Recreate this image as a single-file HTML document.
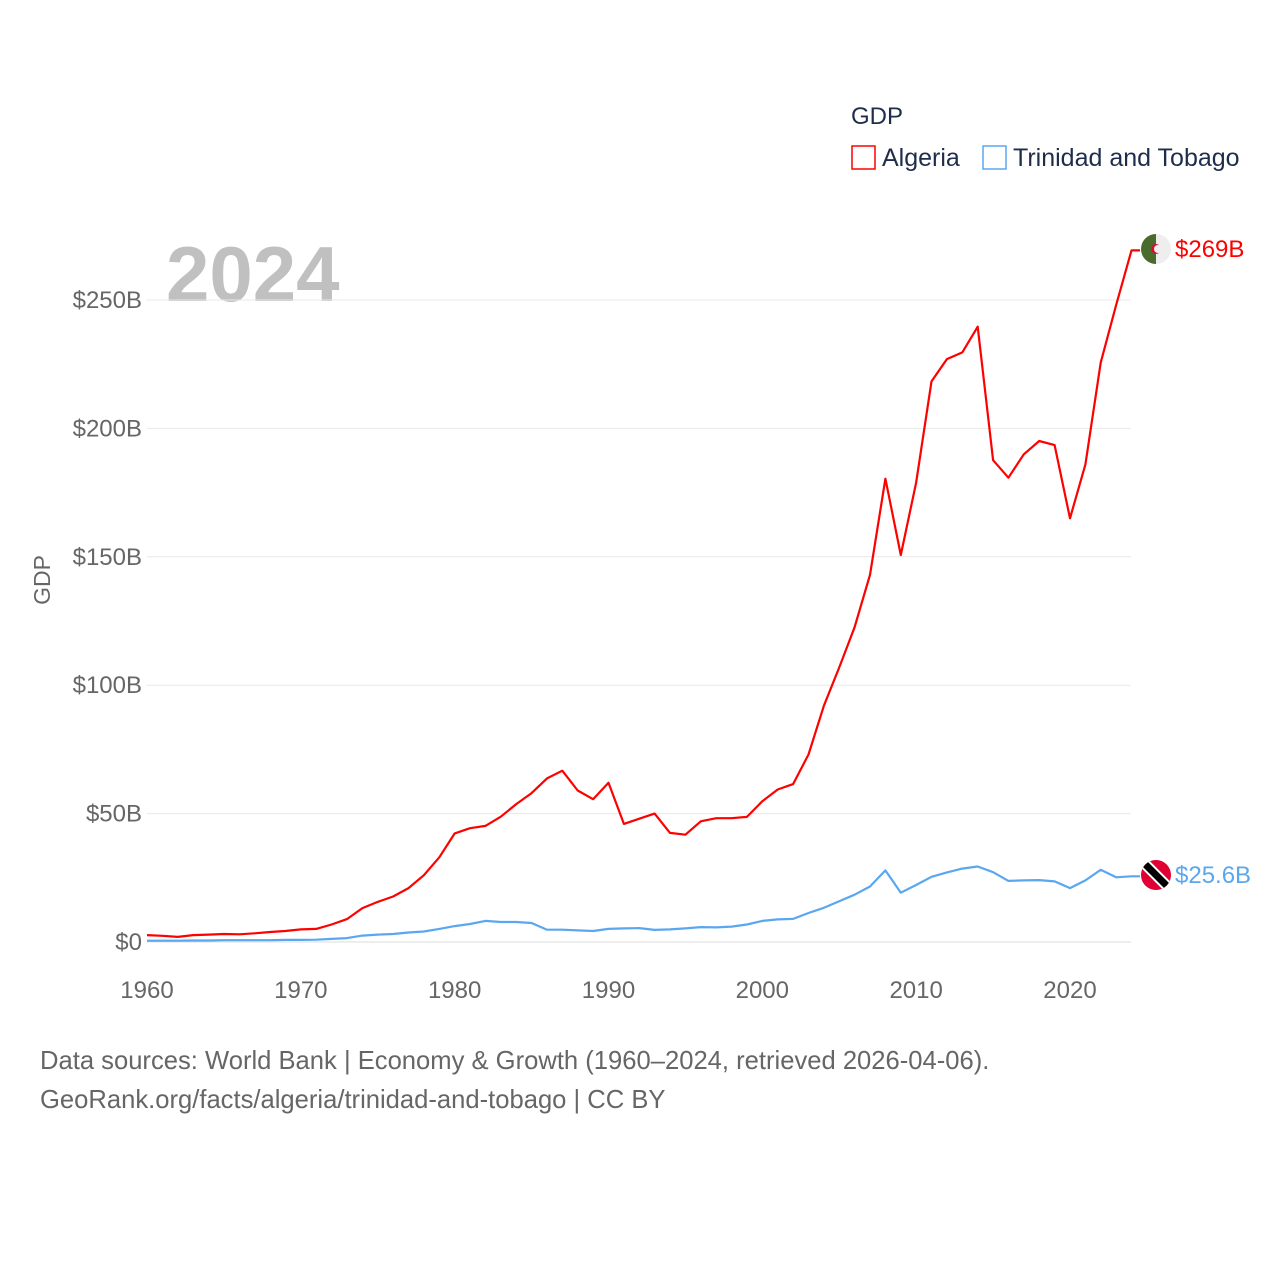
<!DOCTYPE html>
<html><head><meta charset="utf-8"><style>
body{margin:0;background:#fff;}
svg text{font-family:"Liberation Sans",sans-serif;}
</style></head><body>
<svg width="1280" height="1280" viewBox="0 0 1280 1280" id="chart">
<text x="851" y="124" font-size="24" fill="#1f2d4d">GDP</text>
<rect x="852" y="146" width="23" height="23" fill="none" stroke="#ff0000" stroke-width="1.5"/>
<text x="882" y="166" font-size="25" fill="#1f2d4d">Algeria</text>
<rect x="983" y="146" width="23" height="23" fill="none" stroke="#5aa7f0" stroke-width="1.5"/>
<text x="1013" y="166" font-size="25" fill="#1f2d4d">Trinidad and Tobago</text>
<text x="166" y="301" font-size="78" font-weight="bold" fill="#c0c0c0">2024</text>
<text transform="translate(50,580) rotate(-90)" text-anchor="middle" font-size="23" fill="#666">GDP</text>
<g id="grid"></g><g id="yticks"></g><g id="xticks"></g><g id="series"></g>
<g>
<clipPath id="ca"><circle cx="1156" cy="249" r="15"/></clipPath>
<g clip-path="url(#ca)"><rect x="1141" y="234" width="15" height="30" fill="#4a6b2c"/><rect x="1156" y="234" width="15" height="30" fill="#eeeeee"/>
<circle cx="1156" cy="249" r="5" fill="#d21034"/><circle cx="1158" cy="249" r="4" fill="#eee"/></g></g>
<g>
<clipPath id="ct"><circle cx="1156" cy="875" r="15"/></clipPath>
<g clip-path="url(#ct)"><rect x="1141" y="860" width="30" height="30" fill="#e00034"/>
<line x1="1141" y1="860" x2="1171" y2="890" stroke="#fff" stroke-width="11"/>
<line x1="1141" y1="860" x2="1171" y2="890" stroke="#000" stroke-width="7"/></g></g>
<text x="1175" y="257" font-size="24" fill="#ff0000">$269B</text>
<text x="1175" y="883" font-size="24" fill="#5aa7f0">$25.6B</text>
<text x="40" y="1069" font-size="25.6" fill="#666">Data sources: World Bank | Economy &amp; Growth (1960–2024, retrieved 2026-04-06).</text>
<text x="40" y="1108" font-size="25.6" fill="#666">GeoRank.org/facts/algeria/trinidad-and-tobago | CC BY</text>
</svg>
<script>
const years=[];for(let y=1960;y<=2024;y++)years.push(y);
const algeria=[2.7,2.4,2.0,2.7,2.9,3.1,3.0,3.4,3.9,4.3,4.9,5.1,6.8,8.9,13.2,15.6,17.7,21,26,33,42.3,44.3,45.2,48.8,53.7,58,63.7,66.7,59,55.6,62,46,48,50,42.5,41.8,47,48.2,48.2,48.7,54.8,59.4,61.5,73,92,106.9,122.6,143,180.4,150.7,178.8,218.3,227,229.6,239.6,187.6,180.8,189.9,195.1,193.5,165,186,225.6,248,269.3];
const trinidad=[0.5,0.5,0.5,0.6,0.6,0.7,0.7,0.7,0.7,0.8,0.8,0.9,1.2,1.5,2.5,2.9,3.1,3.7,4.1,5.1,6.2,7.0,8.2,7.8,7.8,7.4,4.8,4.8,4.5,4.3,5.1,5.3,5.4,4.7,4.9,5.3,5.8,5.7,6.0,6.8,8.2,8.8,9.0,11.3,13.3,15.9,18.4,21.6,27.9,19.2,22.2,25.4,27.1,28.6,29.4,27.2,23.8,24.0,24.1,23.6,21.0,24.0,28.1,25.2,25.6];
const yTicks=[0,50,100,150,200,250];
const yTickLabels=["$0","$50B","$100B","$150B","$200B","$250B"];
const xTicks=[1960,1970,1980,1990,2000,2010,2020];
const NS="http://www.w3.org/2000/svg";
const X=y=>147+(y-1960)*15.383;
const Y=v=>942-v*2.568;
function mk(tag,attrs,parent){const e=document.createElementNS(NS,tag);for(const k in attrs)e.setAttribute(k,attrs[k]);document.getElementById(parent).appendChild(e);return e;}
yTicks.forEach((t,i)=>{
 const l=mk('line',{x1:147,x2:1131,y1:Y(t),y2:Y(t),stroke:t===0?'#ddd':'#e8e8e8','stroke-width':1},'grid');
 
 
 const tx=mk('text',{x:142,y:Y(t)+8,'text-anchor':'end','font-size':24,fill:'#666'},'yticks');
 tx.textContent=yTickLabels[i];
 
 
});
xTicks.forEach(t=>{
 const tx=mk('text',{x:X(t),y:998,'text-anchor':'middle','font-size':24,fill:'#666'},'xticks');
 tx.textContent=t;
 
 
});
function line(vals,color,name){
 let d=vals.map((v,i)=>(i?'L':'M')+X(years[i]).toFixed(1)+','+Y(v).toFixed(1)).join(' ');
 d+=' L1140,'+Y(vals[vals.length-1]).toFixed(1);
 const p=mk('path',{d:d,fill:'none',stroke:color,'stroke-width':2.2,'stroke-linejoin':'round'},'series');
 
 
}
line(trinidad,'#5aa7f0','line-trinidad');
line(algeria,'#ff0000','line-algeria');
</script>
</body></html>
